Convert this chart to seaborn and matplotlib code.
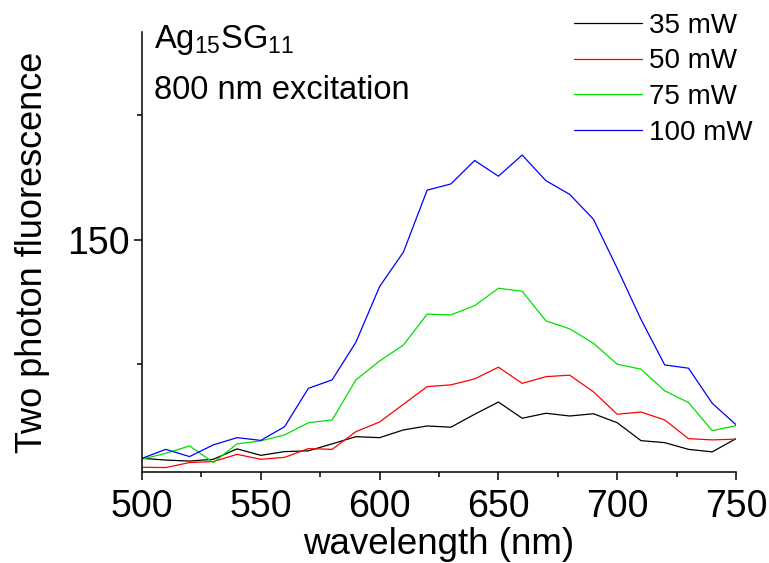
import numpy as np
import pandas as pd
import matplotlib
matplotlib.use("Agg")
import matplotlib.pyplot as plt
import seaborn as sns
from matplotlib.ticker import MultipleLocator

# wavelength grid (nm) and the four power series
wavelength = list(range(500, 751, 10))

p35 = [62.3, 61.6, 61.2, 61.9, 66.1, 63.5, 65.0, 65.3, 68.1, 71.0, 70.6, 73.7, 75.3,
       74.8, 80.0, 84.9, 78.4, 80.4, 79.3, 80.2, 76.6, 69.4, 68.6, 65.9, 64.9, 70.2]
p50 = [58.7, 58.6, 60.6, 61.0, 63.9, 61.9, 62.7, 66.2, 65.9, 73.0, 76.9, 84.0, 91.1,
       91.8, 94.2, 98.9, 92.4, 95.1, 95.7, 89.0, 80.0, 80.9, 77.7, 70.2, 69.7, 70.0]
p75 = [62.0, 64.3, 67.3, 60.6, 68.1, 69.3, 71.7, 76.6, 77.7, 93.8, 101.4, 107.8, 120.2,
       119.9, 123.6, 130.6, 129.4, 117.5, 114.3, 108.5, 100.1, 98.1, 89.4, 84.7, 73.4, 75.4]
p100 = [62.3, 65.9, 63.0, 67.7, 70.6, 69.5, 75.0, 90.4, 93.8, 108.9, 131.3, 145.1, 170.0,
        172.5, 181.9, 175.6, 184.1, 173.8, 168.3, 158.3, 138.6, 118.1, 99.8, 98.5, 84.4, 75.8]

labels = ["35 mW", "50 mW", "75 mW", "100 mW"]
colors = ["#000000", "#ff0000", "#00e000", "#0000ff"]

frames = []
for lab, vals in zip(labels, [p35, p50, p75, p100]):
    frames.append(pd.DataFrame({"wavelength": wavelength, "signal": vals, "power": lab}))
df = pd.concat(frames, ignore_index=True)

sns.set_style("ticks")
plt.rcParams["font.family"] = ["Liberation Sans", "DejaVu Sans"]
plt.rcParams["mathtext.default"] = "regular"
plt.rcParams["text.color"] = "black"
plt.rcParams["axes.labelcolor"] = "black"
plt.rcParams["xtick.color"] = "black"
plt.rcParams["ytick.color"] = "black"

fig = plt.figure(figsize=(7.69, 5.63), dpi=100)
ax = fig.add_axes([0.1847, 0.1616, 0.7724, 0.7815])

sns.lineplot(data=df, x="wavelength", y="signal", hue="power",
             palette=dict(zip(labels, colors)), hue_order=labels,
             linewidth=0.9, ax=ax, legend=False)

ax.set_xlim(500, 750)
ax.set_ylim(56.8, 233.5)
ax.xaxis.set_major_locator(MultipleLocator(50))
ax.xaxis.set_minor_locator(MultipleLocator(25))
ax.set_yticks([150])
ax.set_yticks([100, 200], minor=True)
ax.tick_params(which="major", direction="out", length=6, width=1.1, labelsize=27, pad=3)
ax.tick_params(axis="x", which="major", pad=6.5)
ax.tick_params(which="minor", direction="out", length=3.5, width=1.1)
for side in ["top", "right"]:
    ax.spines[side].set_visible(False)
for side in ["left", "bottom"]:
    ax.spines[side].set_linewidth(1.1)
    ax.spines[side].set_color("black")

ax.set_xlabel("wavelength (nm)", fontsize=26.5, labelpad=1)
ax.set_ylabel("Two photon fluorescence", fontsize=26, labelpad=12)

fig.text(0.2, 0.929, "Ag$_{15}$SG$_{11}$", fontsize=23.5, va="center", ha="left")
fig.text(0.2, 0.84, "800 nm excitation", fontsize=23.5, va="center", ha="left")

handles = [plt.Line2D([], [], color=c, linewidth=0.9) for c in colors]
fig.legend(handles, labels, loc="upper left", bbox_to_anchor=(0.7246, 1.007),
           frameon=False, fontsize=20, handlelength=2.45, handletextpad=0.25,
           labelspacing=0.35, borderpad=0.1)

fig.savefig("out.png", dpi=100)
